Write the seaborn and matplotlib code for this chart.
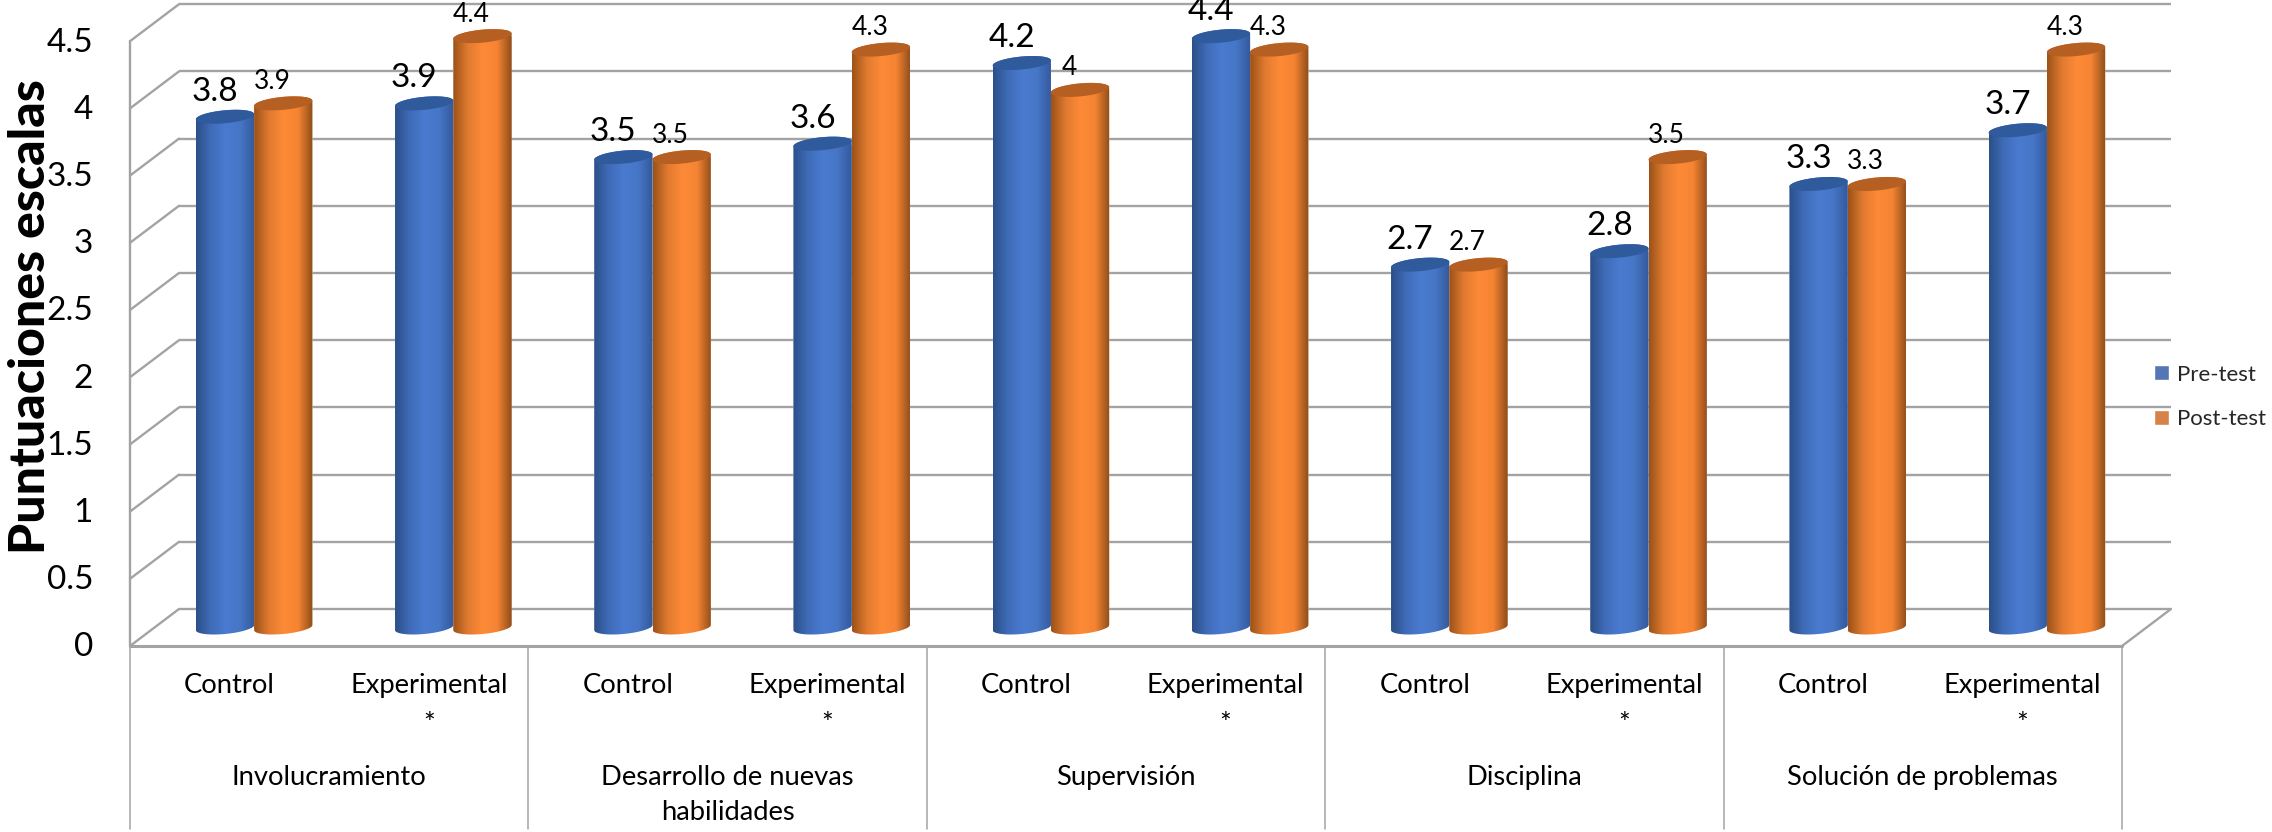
import numpy as np
import pandas as pd
import matplotlib.pyplot as plt
import seaborn as sns
from matplotlib.colors import LinearSegmentedColormap
from matplotlib.patches import Polygon
from matplotlib.path import Path
from matplotlib.transforms import Affine2D, IdentityTransform

groups = ['Involucramiento', 'Desarrollo de nuevas\nhabilidades', 'Supervisión',
          'Disciplina', 'Solución de problemas']
arms = ['Control', 'Experimental\n*']
series = ['Pre-test', 'Post-test']
pre_test = [3.8, 3.9, 3.5, 3.6, 4.2, 4.4, 2.7, 2.8, 3.3, 3.7]
post_test = [3.9, 4.4, 3.5, 4.3, 4, 4.3, 2.7, 3.5, 3.3, 4.3]
y_ticks = [0, 0.5, 1, 1.5, 2, 2.5, 3, 3.5, 4, 4.5]
y_title = 'Puntuaciones escalas'

W, H = 2272, 832
GRID = '#a3a3a3'
FLAT = {'Pre-test': '#4472c4', 'Post-test': '#ed7d31'}
CAP = {'Pre-test': '#2f5a9c', 'Post-test': '#b55f22'}
SHADE = {'Pre-test': ['#2b4f88', '#3f6bb8', '#4a7bd0', '#4676c6', '#34599c'],
         'Post-test': ['#9c5218', '#e07a30', '#fd8a36', '#f58433', '#8f4d1a']}

sns.set_theme(style='white')
plt.rcParams['font.family'] = ['Lato', 'DejaVu Sans']

cond = [g + '|' + a for g in groups for a in arms]
df = pd.DataFrame({
    'cond': cond * 2,
    'serie': [series[0]] * len(cond) + [series[1]] * len(cond),
    'valor': pre_test + post_test,
})

fig = plt.figure(figsize=(W / 100, H / 100), dpi=100)
ax = fig.add_axes([0, 0, 1, 1])
sns.barplot(data=df, x='cond', y='valor', hue='serie', order=cond, hue_order=series,
            palette=FLAT, width=0.585, errorbar=None, ax=ax, zorder=3)

# the axes cover the whole figure, data plane sits in the middle of the 3D box
step, unit = 199.2, 134.4
x0_px, y0_px = 154.5, 627.5
xlim = (-0.5 - x0_px / step, -0.5 + (W - x0_px) / step)
ylim = (-(H - y0_px) / unit, y0_px / unit)
ax.set_xlim(xlim)
ax.set_ylim(ylim)
ax.axis('off')

back = ax.transData + Affine2D().translate(24.5, 18.5)
front = ax.transData + Affine2D().translate(-24.5, -18.5)
left, right = -0.5, len(cond) - 0.5
px_pt = 0.72

for t in y_ticks:
    ax.plot([left, right], [t, t], color=GRID, lw=1.7, transform=back, zorder=1, solid_capstyle='butt')
    p0 = front.transform((left, t))
    p1 = back.transform((left, t))
    ax.plot([p0[0], p1[0]], [p0[1], p1[1]], color=GRID, lw=1.7, transform=IdentityTransform(), zorder=1)
    ax.text(0, t, f'{t:g}', transform=ax.get_yaxis_transform() + Affine2D().translate(93, -20),
            ha='right', va='center', fontsize=24, color='black')

# floor and left wall
ax.plot([left, right], [0, 0], color=GRID, lw=2.2, transform=front, zorder=2)
ax.plot([left, left], [0, y_ticks[-1]], color=GRID, lw=1.7, transform=front, zorder=1)
p0 = front.transform((right, 0))
p1 = back.transform((right, 0))
ax.plot([p0[0], p1[0]], [p0[1], p1[1]], color=GRID, lw=1.7, transform=IdentityTransform(), zorder=1)

# cylinders
tilt, b_px = 0.09, 6.5
t_low = np.linspace(np.pi, 2 * np.pi, 40)
t_up = np.linspace(0, np.pi, 40)
t_all = np.linspace(0, 2 * np.pi, 80)


def ellipse_xy(cx, cy, a, t):
    return np.column_stack([cx + a * np.cos(t), cy + b_px * np.sin(t) + tilt * a * np.cos(t)])


for k, (name, bars) in enumerate(zip(series, ax.containers)):
    cmap = LinearSegmentedColormap.from_list(name, SHADE[name])
    for bar in bars:
        x0, w, v = bar.get_x(), bar.get_width(), bar.get_height()
        (px0, pby), (px1, pty) = ax.transData.transform([(x0, 0), (x0 + w, v)])
        cx, a = (px0 + px1) / 2, (px1 - px0) / 2
        outline = np.vstack([ellipse_xy(cx, pby, a, t_low), ellipse_xy(cx, pty, a, t_up)])
        clip = Path(np.vstack([outline, outline[0]]), closed=True)
        bar.set_clip_path(clip, IdentityTransform())
        im = ax.imshow(np.linspace(0, 1, 200)[None, :], extent=[x0, x0 + w, -0.2, v + 0.2], aspect='auto',
                       cmap=cmap, interpolation='bilinear', zorder=3 + k * 0.1)
        im.set_clip_path(clip, IdentityTransform())
        ax.add_patch(Polygon(ellipse_xy(cx, pty, a, t_all), closed=True, facecolor=CAP[name], edgecolor='none',
                             transform=IdentityTransform(), zorder=3.05 + k * 0.1))
        size, off_x, off_y = (24, -10, 25) if k == 0 else (19, -11, 22)
        ax.annotate(f'{v:g}', (x0 + w / 2, v), xytext=(off_x * px_pt, off_y * px_pt), textcoords='offset points',
                    ha='center', va='center', fontsize=size, color='black', annotation_clip=False, zorder=5)

ax.set_xlim(xlim)
ax.set_ylim(ylim)

# category table under the floor
y_bottom = -(829 - 646) / unit
for i in range(len(groups) + 1):
    xs = left + 2 * i
    ax.plot([xs, xs], [0, y_bottom], color=GRID, lw=1.1, transform=front, zorder=1)
for i, a_name in enumerate(arms * len(groups)):
    ax.annotate(a_name, (i, 0), xytext=(-24.5 * px_pt, -(673 - y0_px) * px_pt), textcoords='offset points',
                ha='center', va='top', fontsize=19.7, color='black', annotation_clip=False, linespacing=1.7)
for j, g_name in enumerate(groups):
    ax.annotate(g_name, (2 * j + 0.5, 0), xytext=(-24.5 * px_pt, -(765 - y0_px) * px_pt), textcoords='offset points',
                ha='center', va='top', fontsize=19.7, color='black', annotation_clip=False, linespacing=1.5)

fig.text(31 / W, 1 - 317 / H, y_title, rotation=90, ha='center', va='center', fontsize=36, fontweight='black',
         color='black')

handles, labels = ax.get_legend_handles_labels()
ax.legend(handles, labels, loc='center left', bbox_to_anchor=(2154 / W, 1 - 397 / H), frameon=False, fontsize=16,
          handlelength=0.68, handleheight=0.68, handletextpad=0.36, labelspacing=1.12, borderpad=0, borderaxespad=0)

fig.savefig('out.png', dpi=100)
